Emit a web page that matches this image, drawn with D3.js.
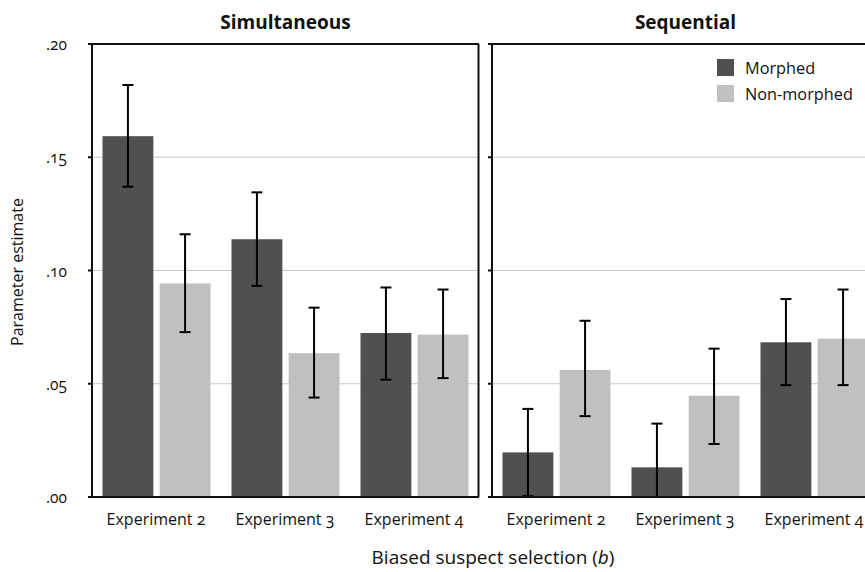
<!DOCTYPE html>
<html>
<head>
<meta charset="utf-8">
<script src="https://cdn.jsdelivr.net/npm/d3@7"></script>
<style>
    body { margin: 0; background: #fff; }
    svg text { font-family: "Open Sans", sans-serif; font-variant-numeric: oldstyle-nums; fill: #111; }
</style>
</head>
<body>
<div class="chart"></div>
<script>
const panels = ["Simultaneous", "Sequential"];
const experiments = ["Experiment 2", "Experiment 3", "Experiment 4"];
const series = ["Morphed", "Non-morphed"];
const yTicks = [0, 0.05, 0.10, 0.15, 0.20];

// values per panel, per experiment: [morphed, non-morphed]
const simMorphed = [0.1593, 0.1138, 0.0724];
const simMorphedLo = [0.1370, 0.0932, 0.0518];
const simMorphedHi = [0.1819, 0.1345, 0.0925];
const simNonMorphed = [0.0943, 0.0635, 0.0717];
const simNonMorphedLo = [0.0728, 0.0439, 0.0525];
const simNonMorphedHi = [0.1160, 0.0836, 0.0916];

const seqMorphed = [0.0197, 0.0131, 0.0683];
const seqMorphedLo = [0.0004, 0.0000, 0.0494];
const seqMorphedHi = [0.0389, 0.0324, 0.0874];
const seqNonMorphed = [0.0561, 0.0447, 0.0699];
const seqNonMorphedLo = [0.0357, 0.0234, 0.0494];
const seqNonMorphedHi = [0.0778, 0.0655, 0.0916];

const colors = {"Morphed": "#505050", "Non-morphed": "#c0c0c0"};

function rowsFor(m, mLo, mHi, n, nLo, nHi) {
    const rows = [];
    experiments.forEach((e, i) => {
        rows.push({exp: e, s: "Morphed", v: m[i], lo: mLo[i], hi: mHi[i]});
        rows.push({exp: e, s: "Non-morphed", v: n[i], lo: nLo[i], hi: nHi[i]});
    });
    return rows;
}
const panelData = [
    rowsFor(simMorphed, simMorphedLo, simMorphedHi, simNonMorphed, simNonMorphedLo, simNonMorphedHi),
    rowsFor(seqMorphed, seqMorphedLo, seqMorphedHi, seqNonMorphed, seqNonMorphedLo, seqNonMorphedHi)
];

const width = 865, height = 572;
const plotTop = 44, plotBottom = 497, panelW = 387;
const panelX = [92, 492];

const svg = d3.select(".chart").append("svg")
    .attr("width", width).attr("height", height);

const y = d3.scaleLinear().domain([0, 0.20]).range([plotBottom, plotTop]);
const x0 = d3.scaleBand().domain(experiments).range([0, panelW]);
const x1 = d3.scaleBand().domain(series).range([10.5, 118.5]).paddingInner(0.11);

panels.forEach((name, p) => {
    const g = svg.append("g").attr("transform", `translate(${panelX[p]},0)`);

    // gridlines
    g.selectAll(".grid").data(yTicks.slice(1, -1)).enter()
        .append("line").attr("class", "grid")
        .attr("x1", 0).attr("x2", panelW)
        .attr("y1", d => y(d)).attr("y2", d => y(d))
        .attr("stroke", "#c8c8c8").attr("stroke-width", 1.2);

    // bars
    const rows = panelData[p];
    g.selectAll(".bar").data(rows).enter()
        .append("rect").attr("class", "bar")
        .attr("x", d => x0(d.exp) + x1(d.s))
        .attr("width", x1.bandwidth())
        .attr("y", d => y(d.v))
        .attr("height", d => y(0) - y(d.v))
        .attr("fill", d => colors[d.s]);

    // error bars
    const cap = 5.5;
    const eb = g.selectAll(".err").data(rows).enter().append("g")
        .attr("class", "err")
        .attr("transform", d => `translate(${x0(d.exp) + x1(d.s) + x1.bandwidth() / 2},0)`)
        .attr("stroke", "#000").attr("stroke-width", 2);
    eb.append("line").attr("y1", d => y(d.lo)).attr("y2", d => y(d.hi));
    eb.append("line").attr("x1", -cap).attr("x2", cap).attr("y1", d => y(d.hi)).attr("y2", d => y(d.hi));
    eb.append("line").attr("x1", -cap).attr("x2", cap).attr("y1", d => y(d.lo)).attr("y2", d => y(d.lo));

    // frame: left axis, top, bottom, right
    const frame = g.append("g").attr("stroke", "#111").attr("stroke-width", 2).attr("fill", "none");
    frame.append("line").attr("x1", 0).attr("x2", 0).attr("y1", plotTop).attr("y2", plotBottom);
    frame.append("line").attr("x1", -4).attr("x2", panelW).attr("y1", plotTop).attr("y2", plotTop);
    frame.append("line").attr("x1", -4).attr("x2", panelW).attr("y1", plotBottom).attr("y2", plotBottom);
    frame.append("line").attr("x1", panelW - 0.5).attr("x2", panelW - 0.5).attr("y1", plotTop).attr("y2", plotBottom);
    frame.selectAll(".tick").data(yTicks).enter()
        .append("line").attr("x1", -4).attr("x2", 0)
        .attr("y1", d => y(d)).attr("y2", d => y(d));

    // y tick labels only on left panel
    if (p === 0) {
        g.selectAll(".ylab").data(yTicks).enter()
            .append("text")
            .attr("x", -25).attr("y", d => y(d) + 6)
            .attr("text-anchor", "end")
            .style("font-size", "15.5px")
            .text(d => d3.format(".2f")(d).replace(/^0/, ""));
    }

    // x tick labels
    g.selectAll(".xlab").data(experiments).enter()
        .append("text")
        .attr("x", d => x0(d) + x0.bandwidth() / 2 - 0.5)
        .attr("y", 525)
        .attr("text-anchor", "middle")
        .style("font-size", "16px")
        .text(d => d);

    // panel title
    g.append("text")
        .attr("x", panelW / 2).attr("y", 29)
        .attr("text-anchor", "middle")
        .style("font-size", "19px").style("font-weight", "bold")
        .text(name);
});

// legend
const legend = svg.append("g").attr("transform", "translate(717,59)");
series.forEach((s, i) => {
    legend.append("rect").attr("x", 0).attr("y", i * 26)
        .attr("width", 17).attr("height", 17).attr("fill", colors[s]);
    legend.append("text").attr("x", 28).attr("y", i * 26 + 15)
        .style("font-size", "16.3px").text(s);
});

// y axis title
svg.append("text")
    .attr("transform", "translate(23,272) rotate(-90)")
    .attr("text-anchor", "middle")
    .style("font-size", "16px")
    .text("Parameter estimate");

// x axis title
const xt = svg.append("text")
    .attr("x", 493).attr("y", 564)
    .attr("text-anchor", "middle")
    .style("font-size", "19px");
xt.append("tspan").text("Biased suspect selection (");
xt.append("tspan").style("font-style", "italic").text("b");
xt.append("tspan").text(")");
</script>
</body>
</html>
